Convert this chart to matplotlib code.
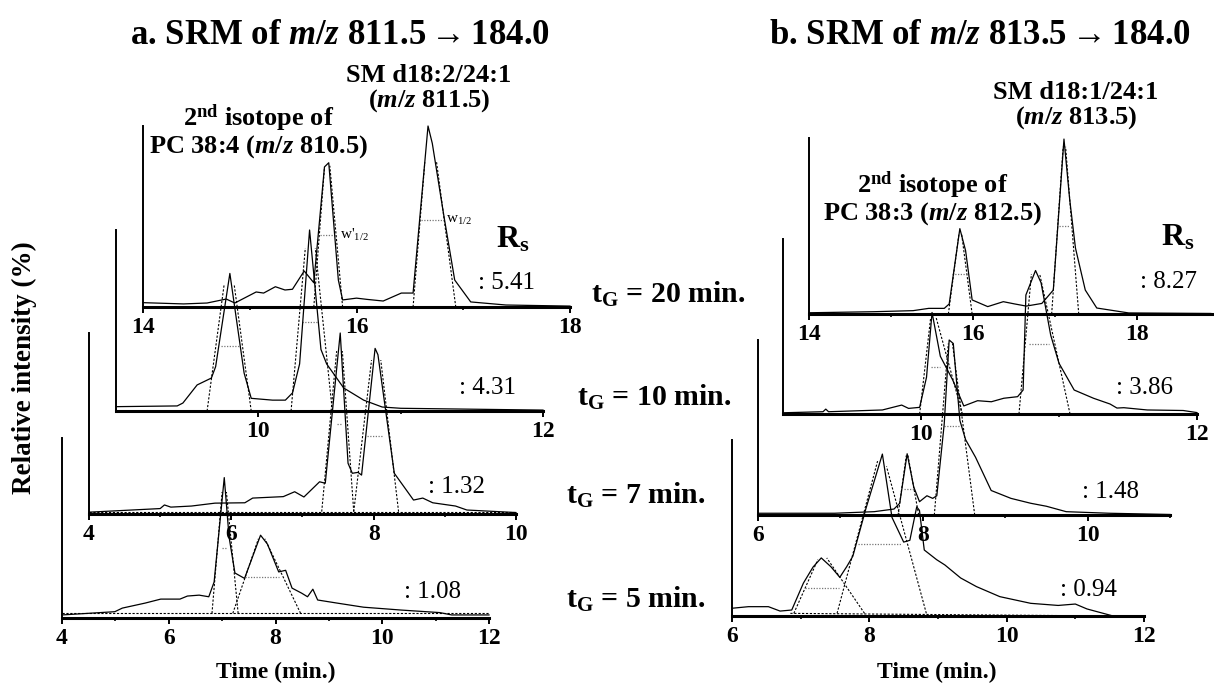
import matplotlib.pyplot as plt

plt.rcParams['font.family'] = ['Liberation Serif', 'DejaVu Serif', 'DejaVu Sans']
plt.rcParams['mathtext.fontset'] = 'custom'
plt.rcParams['mathtext.rm'] = 'Liberation Serif:bold'
plt.rcParams['mathtext.it'] = 'Liberation Serif:italic:bold'
plt.rcParams['mathtext.bf'] = 'Liberation Serif:bold'
plt.rcParams['mathtext.sf'] = 'Liberation Serif'
plt.rcParams['mathtext.fallback'] = 'stix'

W, H = 1214, 684

# ---- panel a: SRM of m/z 811.5 -> 184.0 (relative intensity, % of axis height)
a20_t = [14.0, 14.38, 14.6, 14.78, 14.86, 15.06, 15.13, 15.24, 15.33, 15.40, 15.51, 15.60, 15.70, 15.74,
         15.83, 15.87, 16.0, 16.1, 16.25, 16.42, 16.53, 16.67, 16.71, 16.82, 16.92, 17.07, 17.4, 18.0]
a20_y = [2.4, 1.7, 2.2, 4.4, 2.2, 8.3, 7.7, 11.2, 9.4, 9.8, 19.9, 13.4, 77.4, 79.7,
         14.9, 3.9, 4.9, 4.2, 3.3, 7.7, 7.7, 100, 90.4, 49.8, 14.9, 2.8, 1.1, 0.5]

a10_t = [9.0, 9.43, 9.47, 9.57, 9.67, 9.70, 9.80, 9.90, 9.95, 10.1, 10.19, 10.24, 10.29, 10.36,
         10.44, 10.48, 10.60, 10.74, 10.87, 11.0, 11.5, 12.0]
a10_y = [2.4, 2.8, 4.4, 14.4, 18.2, 24.5, 76, 21, 7, 6, 6, 10, 26, 100,
         34, 26, 12.7, 6, 2.2, 1.5, 1.0, 0.5]

a7_t = [4.0, 4.5, 5.0, 5.06, 5.15, 5.44, 5.77, 6.19, 6.30, 6.73, 6.89, 7.02, 7.24, 7.32, 7.53,
        7.64, 7.70, 7.78, 7.83, 8.02, 8.06, 8.29, 8.56, 8.69, 8.83, 9.15, 9.31, 10.0]
a7_y = [1.0, 2.0, 3.0, 5.0, 3.8, 4.4, 6.0, 6.2, 8.8, 9.6, 12.3, 9.4, 17.8, 17.0, 100,
        28, 22.5, 23, 21.5, 91.5, 88, 22.5, 7.7, 8.8, 6.2, 4.4, 2.2, 0.8]

a5_t = [4.0, 4.99, 5.13, 5.56, 5.85, 6.21, 6.35, 6.57, 6.75, 6.85, 7.04, 7.13, 7.24, 7.42, 7.72,
        7.85, 8.06, 8.19, 8.31, 8.49, 8.60, 8.70, 8.79, 9.15, 9.65, 10.36, 11.08, 11.3, 12.0]
a5_y = [1.7, 3.5, 5.5, 8.3, 10.5, 10.5, 12.2, 12.7, 11.8, 20, 78, 45, 25, 22, 46,
        41, 25.6, 26.5, 16.6, 13.8, 11.8, 16, 10, 8.3, 6, 4.4, 3, 1.7, 1.7]

# ---- panel b: SRM of m/z 813.5 -> 184.0
b20_t = [14.0, 14.79, 15.27, 15.46, 15.65, 15.71, 15.84, 15.91, 15.99, 16.18, 16.37, 16.51, 16.65,
         16.84, 16.98, 17.11, 17.18, 17.25, 17.37, 17.51, 17.9, 18.9]
b20_y = [0.7, 1.3, 1.9, 3.2, 3.2, 5.7, 48.5, 36, 8, 4.2, 7, 5.7, 4.5,
         6, 13.6, 99.4, 65, 37.5, 13.6, 3.4, 0.6, 0.3]

b10_t = [9.0, 9.29, 9.31, 9.33, 9.72, 9.86, 9.91, 9.99, 10.04, 10.08, 10.14, 10.23, 10.31, 10.41,
         10.51, 10.60, 10.70, 10.74, 10.76, 10.83, 10.87, 10.94, 11.0, 11.11, 11.25, 11.37, 11.42,
         11.47, 11.64, 11.9, 12.0]
b10_y = [0.7, 1.3, 2.8, 1.3, 2.3, 5.1, 3.2, 3.8, 21, 58, 33, 19.4, 4.6, 7.6,
         7, 9, 9.9, 13.7, 68, 82, 75, 45, 29, 13.7, 9, 5.7, 3.4,
         3.6, 2.3, 2.0, 0.8]

b7_t = [6.0, 6.93, 7.41, 7.65, 7.72, 7.81, 7.89, 7.96, 8.05, 8.12, 8.17, 8.26, 8.32, 8.37, 8.45,
        8.52, 8.64, 8.83, 9.07, 9.31, 9.50, 9.74, 10.26, 11.0]
b7_y = [1.0, 1.0, 1.9, 3.4, 6.7, 35, 16, 7.6, 11, 9.5, 11, 52, 100, 98, 54,
        43, 33, 14, 9.5, 6.7, 5, 1.9, 1.0, 0.3]

b5_t = [6.0, 6.24, 6.53, 6.70, 6.87, 7.04, 7.18, 7.30, 7.44, 7.57, 7.67, 7.76, 7.95, 8.19, 8.33,
        8.50, 8.59, 8.69, 8.73, 8.80, 8.98, 9.10, 9.33, 9.56, 9.90, 10.35, 10.75, 11.0, 11.17, 11.55]
b5_y = [4.4, 5.3, 5.3, 2.8, 3.4, 18.7, 27.8, 33, 28, 22, 28, 34, 61, 92, 56,
        42, 43, 62, 60, 37.5, 32, 29, 21.6, 16.7, 11, 7.2, 6, 6.8, 4, 0]

# tangent lines (t0, y0, t1, y1) and half-height widths (t0, t1, y)
a20_tan = [(15.60, 0, 15.70, 77), (15.87, 0, 15.75, 78), (16.53, 0, 16.64, 80), (16.93, 0, 16.75, 80)]
a20_half = [(15.66, 15.81, 40), (16.60, 16.82, 48)]
a10_tan = [(9.64, 0, 9.76, 70), (9.95, 0, 9.83, 70), (10.23, 0, 10.33, 90), (10.52, 0, 10.40, 90)]
a10_half = [(9.74, 9.87, 36), (10.31, 10.42, 49)]
a7_tan = [(7.27, 1.3, 7.48, 90), (7.72, 1.3, 7.56, 90), (7.72, 1.3, 7.97, 85), (8.35, 1.3, 8.10, 85)]
a7_half = [(7.48, 7.56, 50), (7.91, 8.13, 43)]
a5_tan = [(6.81, 2.6, 7.0, 70), (7.30, 2.6, 7.08, 70), (7.20, 2.6, 7.68, 44), (8.47, 2.6, 7.80, 44)]
a5_half = [(6.99, 7.10, 39), (7.43, 8.07, 23)]
b20_tan = [(15.70, 0, 15.83, 46), (15.99, 0, 15.86, 46), (16.96, 0, 17.10, 95), (17.29, 0, 17.13, 95)]
b20_half = [(15.74, 15.91, 23), (17.05, 17.17, 50)]
b10_tan = [(9.99, 0, 10.07, 55), (10.30, 0, 10.11, 55), (10.71, 0, 10.80, 80), (11.08, 0, 10.86, 80)]
b10_half = [(10.07, 10.14, 27), (10.78, 10.93, 40)]
b7_tan = [(7.70, 0, 7.80, 34), (7.95, 0, 7.82, 34), (8.14, 0, 8.31, 98), (8.63, 0, 8.36, 98)]
b7_half = [(7.77, 7.89, 15), (8.26, 8.45, 51)]
b5_tan = [(6.90, 1.5, 7.25, 32), (7.93, 1.5, 7.38, 33), (7.53, 1.5, 8.12, 88), (8.83, 1.5, 8.25, 85)]
b5_half = [(7.07, 7.56, 16), (7.84, 8.47, 41)]

rs_a = [': 5.41', ': 4.31', ': 1.32', ': 1.08']
rs_b = [': 8.27', ': 3.86', ': 1.48', ': 0.94']
tg_labels = ['20', '10', '7', '5']

fig = plt.figure(figsize=(W / 100, H / 100), dpi=100)


def px(x, y):
    return x / W, 1 - y / H


def panel(left, bottom, width, height, xlim, majors, minors, t, y, tan, half, base=None):
    ax = fig.add_axes([left / W, 1 - bottom / H, width / W, height / H])
    ax.patch.set_alpha(0)
    ax.set_xlim(*xlim)
    ax.set_ylim(0, 100)
    ax.spines['top'].set_visible(False)
    ax.spines['right'].set_visible(False)
    ax.spines['bottom'].set_linewidth(2.2)
    ax.spines['left'].set_linewidth(1.4)
    ax.set_yticks([])
    ax.set_xticks(majors, labels=[str(m) for m in majors], fontsize=17, fontweight='bold')
    ax.set_xticks(minors, minor=True)
    ax.tick_params(axis='x', which='major', direction='out', length=4, width=1.4, pad=3)
    ax.tick_params(axis='x', which='minor', direction='out', length=2.5, width=1.2)
    if base:
        ax.plot([base[0], base[2]], [base[1], base[3]], color='black', lw=0.8,
                ls=(0, (2, 1.5)), clip_on=False)
    for t0, y0, t1, y1 in tan:
        ax.plot([t0, t1], [y0, y1], color='black', lw=0.8, ls=(0, (2, 1.5)), clip_on=False)
    for t0, t1, yh in half:
        ax.plot([t0, t1], [yh, yh], color='#777777', lw=0.9, ls=(0, (1, 1.2)), clip_on=False)
    ax.plot(t, y, color='black', lw=0.9, clip_on=False)
    return ax


ax_a20 = panel(143, 307, 427, 181, (14, 18), [14, 16, 18], [15, 17], a20_t, a20_y, a20_tan, a20_half)
panel(116, 411, 427, 181, (9, 12), [10, 12], [11], a10_t, a10_y, a10_tan, a10_half)
panel(89, 514, 427, 181, (4, 10), [4, 6, 8, 10], [5, 7, 9], a7_t, a7_y, a7_tan, a7_half,
      base=(4, 1.3, 10, 1.3))
panel(62, 618, 427, 180, (4, 12), [4, 6, 8, 10, 12], [5, 7, 9, 11], a5_t, a5_y, a5_tan, a5_half,
      base=(4, 2.6, 12, 2.6))

panel(809, 314, 405, 176, (14, 18.94), [14, 16, 18], [15, 17], b20_t, b20_y, b20_tan, b20_half)
panel(783, 414, 414, 175, (9, 12), [10, 12], [11], b10_t, b10_y, b10_tan, b10_half)
panel(758, 515, 412, 175, (6, 11), [6, 8, 10], [7, 9, 11], b7_t, b7_y, b7_tan, b7_half)
panel(732, 616, 412, 176, (6, 12), [6, 8, 10, 12], [7, 9, 11], b5_t, b5_y, b5_tan, b5_half,
      base=(6.85, 1.5, 11.55, 0))

# half-width labels
ax_a20.text(15.85, 40, r"w'$_\mathsf{1/2}$", fontsize=11, va='center', ha='left')
ax_a20.text(16.84, 48, r"w$_\mathsf{1/2}$", fontsize=11, va='center', ha='left')

# titles
fig.text(*px(340, 35), r"a. SRM of $\mathit{m/z}$ 811.5$\rightarrow$184.0", fontsize=25,
         fontweight='bold', ha='center', va='center')
fig.text(*px(980, 35), r"b. SRM of $\mathit{m/z}$ 813.5$\rightarrow$184.0", fontsize=25,
         fontweight='bold', ha='center', va='center')

# peak annotations
fig.text(*px(429, 89), "SM d18:2/24:1\n" + r"($\mathit{m/z}$ 811.5)", fontsize=19, fontweight='bold',
         ha='center', va='center', linespacing=1.0)
fig.text(*px(259, 131), r"2$^\mathrm{nd}$ isotope of" + "\n" + r"PC 38:4 ($\mathit{m/z}$ 810.5)",
         fontsize=19, fontweight='bold', ha='center', va='center', linespacing=1.0)
fig.text(*px(1076, 106), "SM d18:1/24:1\n" + r"($\mathit{m/z}$ 813.5)", fontsize=19, fontweight='bold',
         ha='center', va='center', linespacing=1.0)
fig.text(*px(933, 198), r"2$^\mathrm{nd}$ isotope of" + "\n" + r"PC 38:3 ($\mathit{m/z}$ 812.5)",
         fontsize=19, fontweight='bold', ha='center', va='center', linespacing=1.0)

# resolution values
fig.text(*px(513, 240), r"R$_\mathbf{s}$", fontsize=23, fontweight='bold', ha='center', va='center')
fig.text(*px(1178, 238), r"R$_\mathbf{s}$", fontsize=23, fontweight='bold', ha='center', va='center')
for s, (x, y) in zip(rs_a, [(507, 283), (487, 388), (457, 487), (433, 592)]):
    fig.text(*px(x, y), s, fontsize=18, ha='center', va='center')
for s, (x, y) in zip(rs_b, [(1168, 282), (1145, 388), (1111, 492), (1088, 590)]):
    fig.text(*px(x, y), s, fontsize=18, ha='center', va='center')

# gradient time labels
for g, (x, y) in zip(tg_labels, [(591, 294), (577, 397), (566, 495), (566, 599)]):
    fig.text(*px(x, y), r"t$_\mathbf{G}$ = " + g + " min.", fontsize=21.5, fontweight='bold',
             ha='left', va='center')

# axis titles
fig.text(*px(276, 672), "Time (min.)", fontsize=17, fontweight='bold', ha='center', va='center')
fig.text(*px(937, 672), "Time (min.)", fontsize=17, fontweight='bold', ha='center', va='center')
fig.text(*px(24, 368), "Relative intensity (%)", fontsize=19.5, fontweight='bold', ha='center',
         va='center', rotation=90)

fig.savefig('out.png', dpi=100)
